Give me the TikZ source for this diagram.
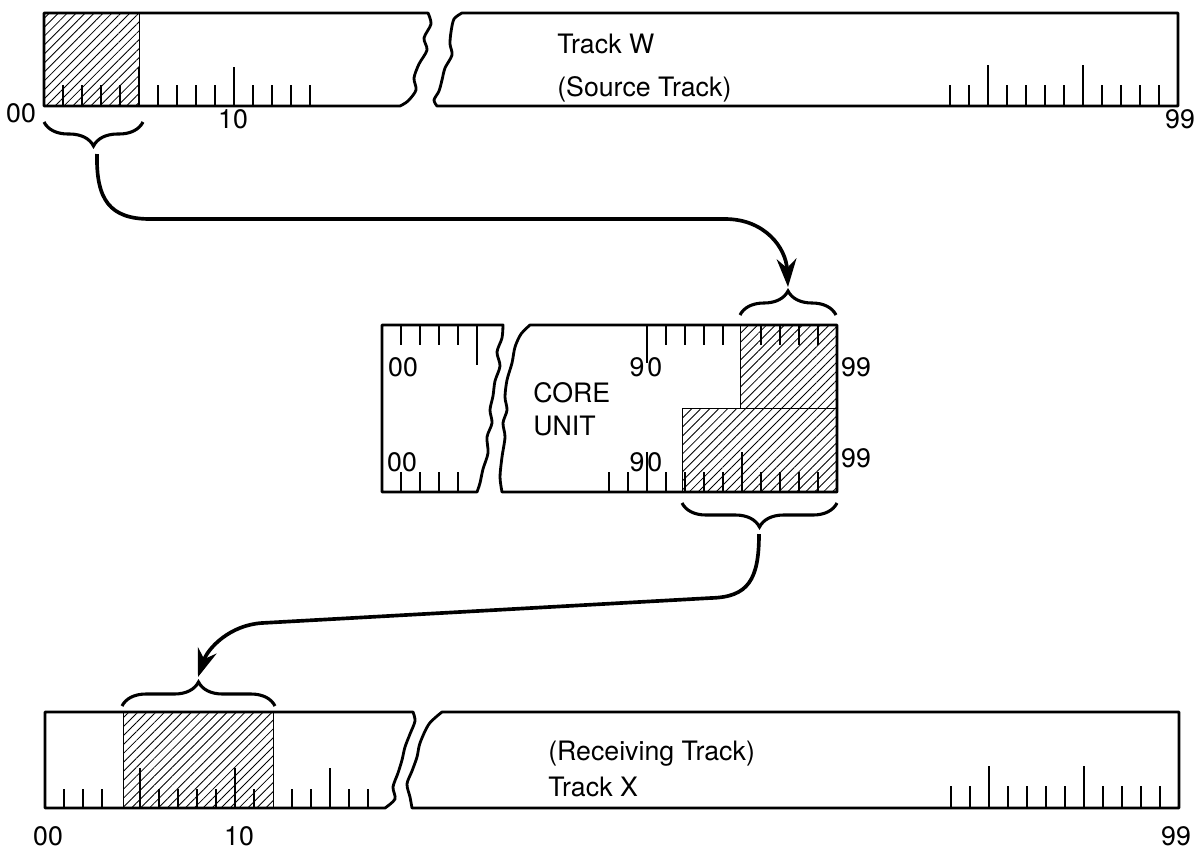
\documentclass[tikz,border=0pt]{standalone}
\usepackage{fontspec}
\setmainfont{TeX Gyre Heros}
\usetikzlibrary{calc,arrows.meta,decorations.pathreplacing,patterns.meta}

\begin{document}
\begin{tikzpicture}[
    x=0.025cm, y=-0.025cm,
    edge/.style={line width=2pt, line join=round},
    tick/.style={line width=1.6pt},
    hatch/.style={draw, line width=0.7pt,
                  pattern={Lines[angle=45,distance=4.5pt,line width=0.6pt]}},
    lbl/.style={inner sep=0pt, font=\fontsize{19}{22}\selectfont},
    brc/.style={decorate, decoration={brace, amplitude=0.6cm}, line width=2.2pt},
    flow/.style={-{Stealth[length=20pt,width=14pt]}, line width=2.6pt}
  ]
    \useasboundingbox (0,0) rectangle (1202,850);

    % Track W (source)
    \draw[hatch] (44,13) rectangle (139,106);
    \draw[edge] (44,13) -- (428,13) -- plot[smooth] coordinates {(428,13) (431,24) (424,38)
      (427,50) (419,64) (414,78) (416,90) (408,101) (400,106)} -- (44,106) -- cycle;
    \draw[edge] (462,13) -- (1178,13) -- (1178,106) -- (437,106) -- plot[smooth] coordinates
      {(437,106) (434,100) (439,91) (442,80) (445,68) (452,55) (450,44) (451,32) (454,19) (462,13)} -- cycle;
    \foreach \i in {1,2,3,4,6,7,8,9,11,12,13,14}
      \draw[tick] (44+19*\i,106) -- ++(0,-21);
    \foreach \i in {5,10}
      \draw[tick] (44+19*\i,106) -- ++(0,-39);
    \foreach \i in {88,89,91,92,93,94,96,97,98,99}
      \draw[tick] (-722+19*\i,106) -- ++(0,-21);
    \foreach \i in {90,95}
      \draw[tick] (-722+19*\i,106) -- ++(0,-41);
    \node[lbl] (w00) at (21,113) {00};
    \node[lbl] (w10) at (233,119) {10};
    \node[lbl] (w99) at (1180,119) {99};
    \node[lbl, anchor=base west] (wname) at (557,53) {Track W};
    \node[lbl, anchor=base west] (wrole) at (557,96) {(Source Track)};

    % Core unit
    \draw[hatch] (740,325) rectangle (837,408);
    \draw[hatch] (682,408) rectangle (837,492);
    \draw[edge] (382,325) -- (503,325) -- plot[smooth] coordinates {(503,325) (502,338) (497,352)
      (500,366) (495,381) (493,396) (490,410) (492,423) (487,437) (488,453) (483,469) (480,483)
      (477,492)} -- (382,492) -- cycle;
    \draw[edge] (530,325) -- (837,325) -- (837,492) -- (502,492) -- plot[smooth] coordinates
      {(502,492) (500,477) (502,457) (505,437) (503,423) (507,410) (505,397) (507,380) (512,363)
      (515,347) (521,334) (530,325)} -- cycle;
    \foreach \i in {1,...,4}
      \draw[tick] (382+19*\i,325) -- ++(0,20);
    \draw[tick] (477,325) -- ++(0,40);
    \foreach \i in {91,92,93,94,96,97,98,99}
      \draw[tick] (-1063+19*\i,325) -- ++(0,20);
    \draw[tick] (647,325) -- ++(0,38);
    \foreach \i in {1,...,4}
      \draw[tick] (382+19*\i,492) -- ++(0,-20);
    \foreach \i in {88,89,91,92,93,94,96,97,98,99}
      \draw[tick] (-1063+19*\i,492) -- ++(0,-20);
    \foreach \i in {90,95}
      \draw[tick] (-1063+19*\i,492) -- ++(0,-40);
    \node[lbl] (c00a) at (403,367) {00};
    \node[lbl] (c00b) at (402,462) {00};
    \node[lbl] (c90a) at (646,367) {9\kern2pt0};
    \node[lbl] (c90b) at (646,462) {9\kern2pt0};
    \node[lbl] (c99a) at (856,367) {99};
    \node[lbl] (c99b) at (856,458) {99};
    \node[lbl, anchor=base west] (cname) at (533,402) {CORE};
    \node[lbl, anchor=base west] (cunit) at (533,435) {UNIT};

    % Track X (receiving)
    \draw[hatch] (123,712) rectangle (273,808);
    \draw[edge] (45,712) -- (413,712) -- plot[smooth] coordinates {(413,712) (415,721) (410,734)
      (405,747) (402,760) (398,773) (393,787) (395,799) (385,808)} -- (45,808) -- cycle;
    \draw[edge] (442,712) -- (1179,712) -- (1179,808) -- (412,808) -- plot[smooth] coordinates
      {(412,808) (410,797) (407,784) (412,771) (417,757) (420,743) (429,724) (442,712)} -- cycle;
    \foreach \i in {1,2,3,6,7,8,9,11,13,14,16,17}
      \draw[tick] (45+19*\i,808) -- ++(0,-19);
    \foreach \i in {5,10,15}
      \draw[tick] (45+19*\i,808) -- ++(0,-40);
    \foreach \i in {88,89,91,92,93,94,96,97,98,99}
      \draw[tick] (-721+19*\i,808) -- ++(0,-22);
    \foreach \i in {90,95}
      \draw[tick] (-721+19*\i,808) -- ++(0,-42);
    \node[lbl] (x00) at (48,836) {00};
    \node[lbl] (x10) at (239,836) {10};
    \node[lbl] (x99) at (1176,836) {99};
    \node[lbl, anchor=base west] (xrole) at (548,760) {(Receiving Track)};
    \node[lbl, anchor=base west] (xname) at (548,796) {Track X};

    % Braces and transfers
    \draw[brc] (143,122) -- (44,122);
    \draw[brc] (740,315) -- (836,315);
    \draw[brc] (837,503) -- (682,503);
    \draw[brc] (122,706) -- (275,706);
    \coordinate (wbrace) at (97,146);
    \coordinate (cinbrace) at (788,291);
    \coordinate (coutbrace) at (759,527);
    \coordinate (xbrace) at (198,682);

    \draw[flow] ($(wbrace)+(0,8)$) .. controls (96,200) and (110,219) .. (150,219)
      -- (725,219) .. controls (765,219) and (786,248) .. ($(cinbrace)+(0,-4)$);
    \draw[flow] ($(coutbrace)+(0,7)$) .. controls (759,580) and (748,597) .. (711,598)
      -- (262,623) .. controls (230,625) and (208,648) .. ($(xbrace)+(0,-5)$);
\end{tikzpicture}
\end{document}
